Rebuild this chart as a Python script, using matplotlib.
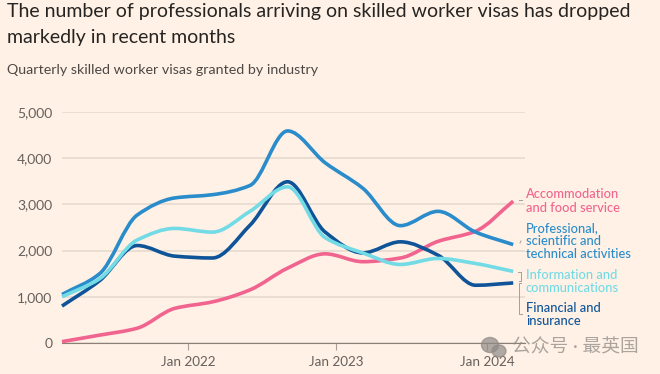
import numpy as np
import matplotlib
matplotlib.use('Agg')
import matplotlib.pyplot as plt
from matplotlib.path import Path
from matplotlib.patches import PathPatch, Ellipse

# quarterly values
quarters = list(range(13))
accommodation = [30, 170, 320, 750, 890, 1150, 1620, 1930, 1760, 1840, 2200, 2420, 3070]
professional = [1050, 1500, 2770, 3140, 3210, 3410, 4590, 3900, 3350, 2540, 2850, 2400, 2130]
information = [1000, 1390, 2230, 2480, 2400, 2850, 3380, 2280, 1950, 1700, 1830, 1720, 1550]
financial = [800, 1350, 2110, 1880, 1840, 2550, 3490, 2400, 1950, 2190, 1900, 1250, 1300]

y_ticks = [0, 1000, 2000, 3000, 4000, 5000]
y_labels = ['0', '1,000', '2,000', '3,000', '4,000', '5,000']
x_ticks = [3.35, 7.3, 11.3]
x_labels = ['Jan 2022', 'Jan 2023', 'Jan 2024']

BG = '#fff1e5'
GRID = '#e6d9ce'
TEXT = '#66605c'
PINK = '#f0648f'
BLUE = '#2a8ccb'
LIGHT = '#72dbe6'
DARK = '#0f5499'

plt.rcParams['font.family'] = ['Lato', 'Noto Sans CJK SC', 'DejaVu Sans']


def smooth_path(xs, ys):
    # monotone bezier segments, flat at each local peak and trough
    xs = np.array(xs, dtype=float)
    ys = np.array(ys, dtype=float)
    h = np.diff(xs)
    d = np.diff(ys) / h
    m = np.zeros(len(xs))
    for i in range(1, len(xs) - 1):
        if d[i - 1] * d[i] > 0:
            m[i] = 2 * d[i - 1] * d[i] / (d[i - 1] + d[i])
    m[0] = d[0]
    m[-1] = d[-1]
    verts = [(xs[0], ys[0])]
    codes = [Path.MOVETO]
    for i in range(len(xs) - 1):
        verts += [(xs[i] + h[i] / 3, ys[i] + m[i] * h[i] / 3),
                  (xs[i + 1] - h[i] / 3, ys[i + 1] - m[i + 1] * h[i] / 3),
                  (xs[i + 1], ys[i + 1])]
        codes += [Path.CURVE4] * 3
    return Path(verts, codes)


def px(x, y):
    return x / 660, 1 - y / 374


fig = plt.figure(figsize=(6.6, 3.74), dpi=100, facecolor=BG)
ax = fig.add_axes([62 / 660, 31 / 374, 463 / 660, 231 / 374], facecolor=BG)
ax.set_xlim(0, 463 / 37.6)
ax.set_ylim(0, 5000)
for s in ['top', 'right', 'left']:
    ax.spines[s].set_visible(False)
ax.spines['bottom'].set_color('#8a8078')
ax.spines['bottom'].set_linewidth(0.8)
ax.spines['bottom'].set_zorder(1)

ax.set_yticks(y_ticks)
ax.set_yticklabels(y_labels, fontsize=10, color=TEXT)
ax.set_xticks(x_ticks)
ax.set_xticklabels(x_labels, fontsize=9.7, color=TEXT)
ax.tick_params(axis='y', length=0, pad=7)
ax.tick_params(axis='x', length=5, color='#a89e95', width=0.8, pad=4)
ax.grid(axis='y', color=GRID, linewidth=1.2)
ax.set_axisbelow(True)

for values, color in [(accommodation, PINK), (financial, DARK), (professional, BLUE), (information, LIGHT)]:
    ax.add_patch(PathPatch(smooth_path(quarters, values), fill=False, edgecolor=color,
                           linewidth=2.6, capstyle='butt', joinstyle='round',
                           clip_on=False, zorder=3))

# titles
fig.text(*px(7, 12), 'The number of professionals arriving on skilled worker visas has dropped',
         fontsize=14, color='#262422', va='center')
fig.text(*px(7, 37), 'markedly in recent months', fontsize=14, color='#262422', va='center')
fig.text(*px(7, 70), 'Quarterly skilled worker visas granted by industry', fontsize=10.3,
         color='#4d4845', va='center')

# series labels
labels = [
    (194, 'Accommodation', PINK), (208, 'and food service', PINK),
    (228, 'Professional,', BLUE), (241, 'scientific and', BLUE), (254, 'technical activities', BLUE),
    (275, 'Information and', LIGHT), (288, 'communications', LIGHT),
    (308, 'Financial and', DARK), (321, 'insurance', DARK),
]
for y, s, c in labels:
    fig.text(*px(526, y), s, fontsize=9.3, color=c, va='center', fontweight='medium')

# connector marks from the line ends to the labels
for xs, ys in [([519, 522], [200, 200]), ([520, 521], [243, 241]),
               ([518, 521, 521, 519], [272, 272, 281, 281]),
               ([521, 519, 519, 522], [283, 283, 314, 314])]:
    fig.add_artist(plt.Line2D(np.array(xs) / 660, 1 - np.array(ys) / 374, color='#a89e95', linewidth=0.7))

# watermark
fig.text(*px(512, 347), '公众号 · 最英国', fontsize=13.5, color='#8f8a86', alpha=0.75, va='center')
fig.add_artist(Ellipse(px(490, 345), 17 / 660, 15 / 374, color='#8f8a86', alpha=0.7, transform=fig.transFigure))
fig.add_artist(Ellipse(px(499, 351), 14 / 660, 12 / 374, color='#8f8a86', alpha=0.7, transform=fig.transFigure))

fig.savefig('out.png', dpi=100, facecolor=BG)
